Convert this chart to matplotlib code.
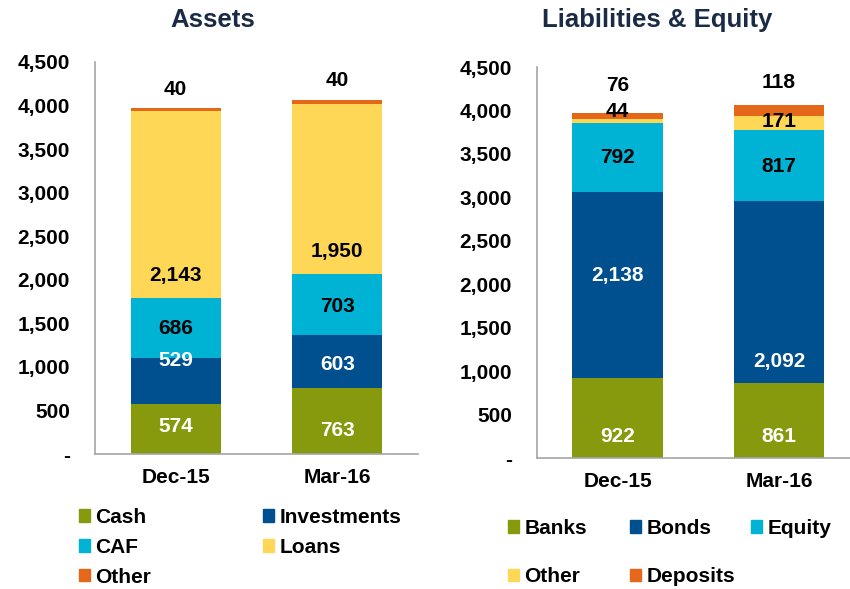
import numpy as np
import matplotlib
matplotlib.use("Agg")
import matplotlib.pyplot as plt
from matplotlib.patches import Rectangle

plt.rcParams['font.family'] = ['Liberation Sans', 'DejaVu Sans']
plt.rcParams['font.weight'] = 'bold'

# data
periods = ["Dec-15", "Mar-16"]

asset_names = ["Cash", "Investments", "CAF", "Loans", "Other"]
cash = [574, 763]
investments = [529, 603]
caf = [686, 703]
loans = [2143, 1950]
asset_other = [40, 40]

liab_names = ["Banks", "Bonds", "Equity", "Other", "Deposits"]
banks = [922, 861]
bonds = [2138, 2092]
equity = [792, 817]
liab_other = [44, 171]
deposits = [76, 118]

y_ticks = [0, 500, 1000, 1500, 2000, 2500, 3000, 3500, 4000, 4500]

# colours
GREEN = "#879A0E"
NAVY = "#00508F"
CYAN = "#00B2D3"
YELLOW = "#FFD757"
ORANGE = "#E5671A"
TITLE_COL = "#1A2B45"

# label placement inside each segment (fraction of segment height) and label colour
asset_label_pos = [[0.54, 0.35], [0.95, 0.43], [0.5, 0.47], [0.12, 0.13], [6.45, 6.6]]
asset_label_col = ["white", "white", "black", "black", "black"]
liab_label_pos = [[0.27, 0.29], [0.55, 0.12], [0.5, 0.49], [3.2, 0.57], [5.08, 3.18]]
liab_label_col = ["white", "white", "black", "black", "black"]


def stacked(ax, series, colors, label_pos, label_col):
    x = np.arange(len(periods))
    bottom = np.zeros(len(periods))
    for vals, col, pos, tcol in zip(series, colors, label_pos, label_col):
        vals = np.array(vals, dtype=float)
        ax.bar(x, vals, bottom=bottom, width=0.56, color=col, edgecolor='none')
        for i in range(len(x)):
            ax.text(x[i], bottom[i] + pos[i] * vals[i], f"{int(vals[i]):,}",
                    ha='center', va='center', fontsize=15, fontweight='bold', color=tcol)
        bottom += vals
    ax.set_xticks(x)
    ax.set_xticklabels(periods, fontsize=15, fontweight='bold')
    ax.set_yticks(y_ticks)
    ax.set_yticklabels(["-" if t == 0 else f"{t:,}" for t in y_ticks], fontsize=15, fontweight='bold')
    ax.set_ylim(0, 4500)
    ax.tick_params(axis='y', length=0, pad=18)
    ax.tick_params(axis='x', length=0, pad=10)
    for s in ['top', 'right']:
        ax.spines[s].set_visible(False)
    for s in ['left', 'bottom']:
        ax.spines[s].set_color("#A6A6A6")
        ax.spines[s].set_linewidth(1.2)


def legend_column(fig, names, colors, x, y, spacing):
    handles = [Rectangle((0, 0), 1, 1, color=c) for c in colors]
    leg = fig.legend(handles, names, loc='upper left', bbox_to_anchor=(x, y),
                     bbox_transform=fig.transFigure, frameon=False, borderpad=0,
                     borderaxespad=0, handlelength=0.53, handleheight=0.53,
                     handletextpad=0.25, labelspacing=spacing,
                     prop={'size': 15, 'weight': 'bold'})
    return leg


fig = plt.figure(figsize=(8.5, 5.89), dpi=100)

ax1 = fig.add_axes([95 / 850, 1 - 454 / 589, (418 - 95) / 850, (454 - 62) / 589])
stacked(ax1, [cash, investments, caf, loans, asset_other],
        [GREEN, NAVY, CYAN, YELLOW, ORANGE], asset_label_pos, asset_label_col)
ax1.set_xlim(-0.5, 1.5)

ax2 = fig.add_axes([537 / 850, 1 - 458 / 589, (850 - 537) / 850, (458 - 67) / 589])
stacked(ax2, [banks, bonds, equity, liab_other, deposits],
        [GREEN, NAVY, CYAN, YELLOW, ORANGE], liab_label_pos, liab_label_col)
ax2.set_xlim(-0.5, 1.44)

# titles
fig.text(213 / 850, 1 - 27 / 589, "Assets", ha='center', va='baseline',
         fontsize=18.5, fontweight='bold', color=TITLE_COL)
fig.text(657 / 850, 1 - 27 / 589, "Liabilities & Equity", ha='center', va='baseline',
         fontsize=18.5, fontweight='bold', color=TITLE_COL)

# legends (one per column)
legend_column(fig, ["Cash", "CAF", "Other"], [GREEN, CYAN, ORANGE], 79 / 850, 1 - 508 / 589, 0.52)
legend_column(fig, ["Investments", "Loans"], [NAVY, YELLOW], 263 / 850, 1 - 508 / 589, 0.52)
legend_column(fig, ["Banks", "Other"], [GREEN, YELLOW], 508 / 850, 1 - 519 / 589, 1.4)
legend_column(fig, ["Bonds", "Deposits"], [NAVY, ORANGE], 630 / 850, 1 - 519 / 589, 1.4)
legend_column(fig, ["Equity"], [CYAN], 751 / 850, 1 - 519 / 589, 1.4)

fig.savefig("out.png", dpi=100)
